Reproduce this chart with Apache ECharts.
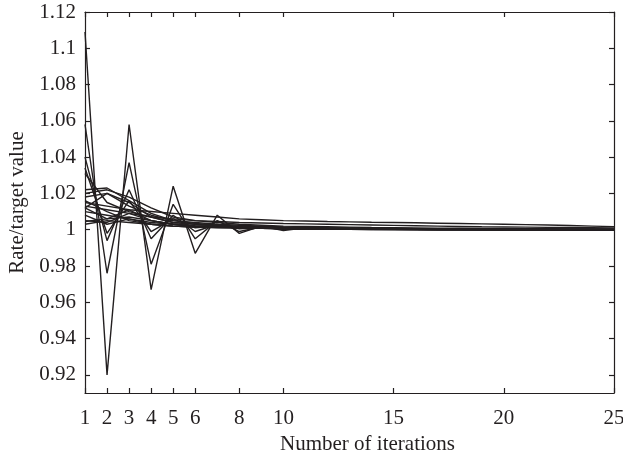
<!DOCTYPE html>
<html>
<head>
<meta charset="utf-8">
<script src="https://cdn.jsdelivr.net/npm/echarts@6/dist/echarts.min.js"></script>
<style>html,body{margin:0;padding:0;background:#fff}#c{width:623px;height:456px}</style>
</head>
<body>
<div id="c"></div>
<script>
var iterations = [1,2,3,4,5,6,7,8,9,10,11,12,13,14,15,16,17,18,19,20,21,22,23,24,25];
var xTicks = [1,2,3,4,5,6,8,10,15,20,25];
var yTicks = [0.92,0.94,0.96,0.98,1,1.02,1.04,1.06,1.08,1.1,1.12];

var s1  = [1.109,0.920,1.058,0.967,1.024,0.987,1.008,0.998,1.002,0.9995,1.001,1.0003,1.0002,1.0001,1.0001,1.0001,1,1,1,1,1,1,1,1,1];
var s2  = [1.058,0.976,1.037,0.981,1.014,0.995,1.005,0.999,1.0015,1.0002,1.0006,1.0003,1.0002,1.0001,1.0001,1,1,1,1,1,1,1,1,1,1];
var s3  = [1.040,0.994,1.022,0.995,1.008,0.999,1.003,1.0005,1.001,1.0004,1.0004,1.0003,1.0002,1.0002,1.0001,1.0001,1.0001,1,1,1,1,1,1,1,1];
var s4  = [1.034,0.998,1.016,0.999,1.006,1.001,1.002,1.001,1.0008,1.0005,1.0004,1.0003,1.0003,1.0002,1.0002,1.0001,1.0001,1.0001,1,1,1,1,1,1,1];
var s5  = [1.031,1.015,1.010,1.007,1.004,1.003,1.002,1.0015,1.001,1.0008,1.0006,1.0005,1.0004,1.0004,1.0003,1.0003,1.0002,1.0002,1.0002,1.0001,1.0001,1.0001,1.0001,1,1];
var s6  = [1.022,1.023,1.016,1.009,1.005,1.004,1.003,1.0025,1.002,1.0015,1.0012,1.001,1.0009,1.0008,1.0007,1.0006,1.0005,1.0005,1.0004,1.0004,1.0003,1.0003,1.0002,1.0002,1.0002];
var s7  = [1.020,1.022,1.018,1.012,1.007,1.005,1.004,1.003,1.0025,1.002,1.0018,1.0016,1.0014,1.0012,1.0011,1.001,1.0009,1.0008,1.0007,1.0006,1.0005,1.0005,1.0004,1.0004,1.0003];
var s8  = [1.018,1.020,1.013,1.008,1.005,1.0035,1.0025,1.002,1.0017,1.0014,1.0012,1.001,1.0009,1.0008,1.0007,1.0006,1.0005,1.0004,1.0004,1.0003,1.0003,1.0002,1.0002,1.0002,1.0001];
var s9  = [1.015,1.013,1.011,1.010,1.009,1.008,1.007,1.006,1.0055,1.005,1.0048,1.0045,1.0043,1.0041,1.004,1.0038,1.0036,1.0034,1.0032,1.003,1.0028,1.0026,1.0023,1.002,1.0017];
var s10 = [1.013,1.011,1.009,1.007,1.006,1.005,1.0045,1.004,1.0037,1.0034,1.0032,1.003,1.0028,1.0026,1.0024,1.0022,1.002,1.0018,1.0016,1.0015,1.0014,1.0013,1.0012,1.0011,1.001];
var s11 = [1.012,1.006,1.011,1.005,1.003,1.002,1.0015,1.0012,1.001,1.0008,1.0007,1.0006,1.0005,1.0004,1.0003,1.0003,1.0002,1.0002,1.0001,1.0001,1.0001,1,1,1,1];
var s12 = [1.010,1.008,1.006,1.004,1.003,1.002,1.0016,1.0013,1.001,1.0009,1.0008,1.0007,1.0006,1.0005,1.0004,1.0004,1.0003,1.0003,1.0002,1.0002,1.0002,1.0001,1.0001,1.0001,1.0001];
var s13 = [1.008,1.003,1.006,1.003,1.002,1.0015,1.0012,1.001,1.0008,1.0006,1.0005,1.0004,1.0003,1.0003,1.0002,1.0002,1.0001,1.0001,1.0001,1,1,1,1,1,1];
var s14 = [1.005,1.004,1.009,1.005,1.003,1.002,1.0017,1.0014,1.0012,1.001,1.0009,1.0008,1.0007,1.0006,1.0005,1.0004,1.0004,1.0003,1.0003,1.0002,1.0002,1.0002,1.0001,1.0001,1.0001];
var s15 = [1.003,1.005,1.004,1.003,1.002,1.0015,1.0012,1.001,1.0008,1.0006,1.0005,1.0004,1.0003,1.0003,1.0002,1.0002,1.0001,1.0001,1.0001,1.0001,1,1,1,1,1];
var s16 = [1.012,1.020,1.015,1.007,1.004,1.003,1.0022,1.0018,1.0015,1.0012,1.001,1.0009,1.0008,1.0007,1.0006,1.0005,1.0004,1.0004,1.0003,1.0003,1.0002,1.0002,1.0002,1.0001,1.0001];
var s17 = [1.016,1.010,1.005,1.003,1.002,1.0015,1.0012,1.001,1.0008,1.0006,1.0005,1.0004,1.0003,1.0003,1.0002,1.0002,1.0001,1.0001,1.0001,1,1,1,1,1,1];
var s18 = [1.0045,1.006,1.007,1.005,1.003,1.0022,1.0018,1.0015,1.0012,1.001,1.0009,1.0008,1.0007,1.0006,1.0005,1.0004,1.0004,1.0003,1.0003,1.0002,1.0002,1.0002,1.0001,1.0001,1.0001];

var allSeries = [s1,s2,s3,s4,s5,s6,s7,s8,s9,s10,s11,s12,s13,s14,s15,s16,s17,s18];

var FONT = 'Liberation Serif';
var INK = '#231f20';

var chart = echarts.init(document.getElementById('c'), null, {renderer: 'canvas'});

function fmtY(v) { return String(+(+v).toFixed(2)); }

var axLine = {show: true, lineStyle: {color: INK, width: 1.2}};
var tickLine = {color: INK, width: 1.2};

chart.setOption({
  animation: false,
  backgroundColor: '#fff',
  grid: {left: 85, right: 9, top: 12, bottom: 63, containLabel: false, outerBoundsMode: 'none'},
  xAxis: [{
    type: 'value', min: 1, max: 25, position: 'bottom',
    name: 'Number of iterations', nameLocation: 'middle', nameGap: 32,
    nameTextStyle: {fontFamily: FONT, fontSize: 21, color: INK, padding: [0, 0, 0, 36]},
    axisLine: axLine,
    axisTick: {show: true, inside: true, length: 5, customValues: xTicks, lineStyle: tickLine},
    axisLabel: {customValues: xTicks, fontFamily: FONT, fontSize: 21, color: INK, margin: 15},
    splitLine: {show: false}
  }, {
    type: 'value', min: 1, max: 25, position: 'top',
    axisLine: axLine,
    axisTick: {show: true, inside: true, length: 5, customValues: xTicks, lineStyle: tickLine},
    axisLabel: {show: false},
    splitLine: {show: false}
  }],
  yAxis: [{
    type: 'value', min: 0.91, max: 1.12, position: 'left',
    name: 'Rate/target value', nameLocation: 'middle', nameGap: 56, nameRotate: 90,
    nameTextStyle: {fontFamily: FONT, fontSize: 21, color: INK},
    axisLine: axLine,
    axisTick: {show: true, inside: true, length: 5, customValues: yTicks, lineStyle: tickLine},
    axisLabel: {customValues: yTicks, fontFamily: FONT, fontSize: 21, color: INK, margin: 9, formatter: fmtY},
    splitLine: {show: false}
  }, {
    type: 'value', min: 0.91, max: 1.12, position: 'right',
    axisLine: axLine,
    axisTick: {show: true, inside: true, length: 5, customValues: yTicks, lineStyle: tickLine},
    axisLabel: {show: false},
    splitLine: {show: false}
  }],
  series: allSeries.map(function (vals) {
    return {
      type: 'line',
      xAxisIndex: 0, yAxisIndex: 0,
      data: iterations.map(function (it, i) { return [it, vals[i]]; }),
      showSymbol: false, symbol: 'none',
      lineStyle: {color: INK, width: 1.4},
      z: 2
    };
  })
});
</script>
</body>
</html>
